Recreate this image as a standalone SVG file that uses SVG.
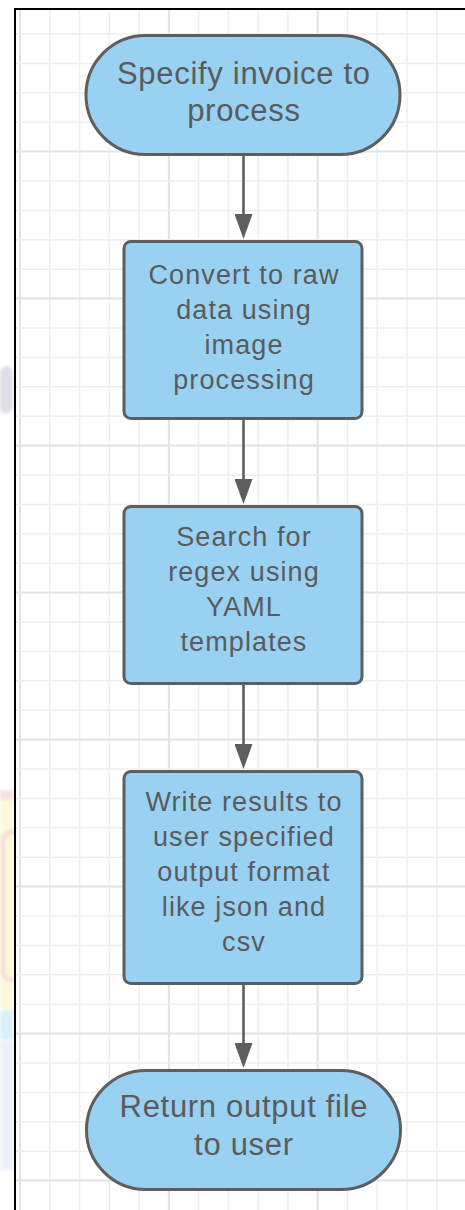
<svg xmlns="http://www.w3.org/2000/svg" width="465" height="1210" viewBox="0 0 465 1210">
<style>
.minor{stroke:#eeeeee;stroke-width:1.5;fill:none}
.major{stroke:#e3e3e3;stroke-width:2;fill:none}
.node{fill:#99d1f2;stroke:#5e5e5e;stroke-width:3}
.conn{stroke:#5e5e5e;stroke-width:2.6;fill:none}
.t1{font-family:"Liberation Sans",Arial,sans-serif;font-size:31px;letter-spacing:0.7px;fill:#5b5b5b;text-anchor:middle}
.t2{font-family:"Liberation Sans",Arial,sans-serif;font-size:27px;letter-spacing:1.1px;fill:#5b5b5b;text-anchor:middle}
</style>
<defs>
<marker id="arrow" markerUnits="userSpaceOnUse" markerWidth="25" markerHeight="18" refX="0" refY="9" orient="auto">
<path d="M0,0 L25,9 L0,18 z" fill="#5e5e5e"/>
</marker>
<clipPath id="leftside"><rect x="0" y="0" width="14" height="1210"/></clipPath>
<filter id="soft" x="-50%" y="-10%" width="200%" height="120%"><feGaussianBlur stdDeviation="1.5"/></filter>
</defs>
<rect x="0" y="0" width="465" height="1210" fill="#ffffff"/>
<g id="watermark" clip-path="url(#leftside)" opacity="0.55">
<path d="M0,372 C6,362 12,364 13,374 L13,408 C8,416 3,414 0,410 z" fill="#c4c4d6" filter="url(#soft)"/>
<rect x="0" y="792" width="14" height="218" fill="#fcf3c0" filter="url(#soft)"/>
<rect x="0" y="790" width="14" height="10" fill="#f9c8c8" filter="url(#soft)"/>
<rect x="3" y="832" width="24" height="148" rx="9" fill="none" stroke="#f6bcbc" stroke-width="4" filter="url(#soft)"/>
<rect x="0" y="1010" width="14" height="30" fill="#bfe6f7" filter="url(#soft)"/>
<rect x="0" y="1040" width="14" height="130" fill="#e3e3f8" filter="url(#soft)"/>
</g>
<g id="grid">
<path class="minor" d="M49.8,10V1210M79.5,10V1210M109.3,10V1210M139.1,10V1210M198.6,10V1210M228.4,10V1210M258.2,10V1210M287.9,10V1210M347.5,10V1210M377.2,10V1210M407,10V1210M436.8,10V1210"/>
<path class="major" d="M20,10V1210M168.9,10V1210M317.7,10V1210"/>
<path class="minor" d="M16,34H465M16,63.4H465M16,92.8H465M16,122.2H465M16,181H465M16,210.4H465M16,239.8H465M16,269.2H465M16,328H465M16,357.4H465M16,386.8H465M16,416.2H465M16,475H465M16,504.4H465M16,533.8H465M16,563.2H465M16,622H465M16,651.4H465M16,680.8H465M16,710.2H465M16,769H465M16,798.4H465M16,827.8H465M16,857.2H465M16,916H465M16,945.4H465M16,974.8H465M16,1004.2H465M16,1063H465M16,1092.4H465M16,1121.8H465M16,1151.2H465"/>
<path class="major" d="M16,151.6H465M16,298.6H465M16,445.6H465M16,592.6H465M16,739.6H465M16,886.6H465M16,1033.6H465M16,1180.6H465"/>
</g>
<path id="border" d="M15,1210V9H465" fill="none" stroke="#000000" stroke-width="2"/>
<g id="connectors">
<line class="conn" x1="243.5" y1="155" x2="243.5" y2="214" marker-end="url(#arrow)"/>
<line class="conn" x1="243.5" y1="419" x2="243.5" y2="479" marker-end="url(#arrow)"/>
<line class="conn" x1="243.5" y1="684" x2="243.5" y2="744" marker-end="url(#arrow)"/>
<line class="conn" x1="243.5" y1="984" x2="243.5" y2="1043" marker-end="url(#arrow)"/>
</g>
<g id="node1">
<rect class="node" x="86" y="35.5" width="314" height="119" rx="59.5"/>
<text class="t1" x="243.9" y="83.5">Specify invoice to</text>
<text class="t1" x="243.9" y="121">process</text>
</g>
<g id="node2">
<rect class="node" x="124" y="241.5" width="238" height="177" rx="7"/>
<text class="t2" x="244" y="283.5">Convert to raw</text>
<text class="t2" x="244" y="318.5">data using</text>
<text class="t2" x="244" y="353.5">image</text>
<text class="t2" x="244" y="388.5">processing</text>
</g>
<g id="node3">
<rect class="node" x="124" y="506.5" width="238" height="177" rx="7"/>
<text class="t2" x="244" y="546">Search for</text>
<text class="t2" x="244" y="581">regex using</text>
<text class="t2" x="244" y="616">YAML</text>
<text class="t2" x="244" y="651">templates</text>
</g>
<g id="node4">
<rect class="node" x="124" y="771.5" width="238" height="212" rx="7"/>
<text class="t2" x="244" y="811">Write results to</text>
<text class="t2" x="244" y="846">user specified</text>
<text class="t2" x="244" y="881">output format</text>
<text class="t2" x="244" y="916">like json and</text>
<text class="t2" x="244" y="951">csv</text>
</g>
<g id="node5">
<rect class="node" x="86.5" y="1070.5" width="314" height="119" rx="59.5"/>
<text class="t1" x="243.9" y="1117">Return output file</text>
<text class="t1" x="243.9" y="1155">to user</text>
</g>
</svg>
